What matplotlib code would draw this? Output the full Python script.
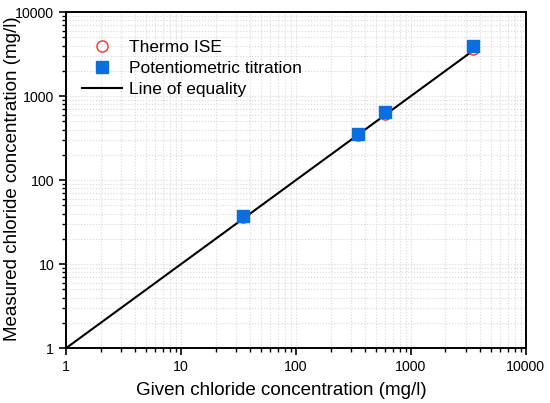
import matplotlib.pyplot as plt
from matplotlib.ticker import LogLocator, NullFormatter

plt.rcParams['font.family'] = ['Liberation Sans', 'DejaVu Sans']

# data
given = [35, 350, 600, 3500]
ise = [36, 340, 620, 3650]
titration = [37, 350, 645, 3900]
equality = [1, 3500]

fig = plt.figure(figsize=(5.5, 4.03), dpi=100)
ax = fig.add_axes([0.12, 0.136, 0.836, 0.834])

ax.plot(equality, equality, color='black', lw=1.5, label='Line of equality', zorder=2)
ax.plot(given, ise, 'o', mfc='none', mec='#ff2a2a', ms=8, mew=1.0,
        ls='none', label='Thermo ISE', zorder=3)
ax.plot(given, titration, 's', color='#0a6ee0', ms=8, ls='none',
        label='Potentiometric titration', zorder=4)

ax.set_xscale('log')
ax.set_yscale('log')
ax.set_xlim(1, 10000)
ax.set_ylim(1, 10000)

ticks = [1, 10, 100, 1000, 10000]
tick_labels = ['1', '10', '100', '1000', '10000']
ax.set_xticks(ticks)
ax.set_xticklabels(tick_labels)
ax.set_yticks(ticks)
ax.set_yticklabels(tick_labels)
for axis in (ax.xaxis, ax.yaxis):
    axis.set_minor_locator(LogLocator(base=10, subs=range(2, 10)))
    axis.set_minor_formatter(NullFormatter())

ax.tick_params(which='major', direction='out', length=5, width=1.2, labelsize=10.2)
ax.tick_params(which='minor', direction='out', length=3, width=1.0)
for s in ax.spines.values():
    s.set_linewidth(1.4)

ax.grid(True, which='both', color='#d8d8d8', ls=':', lw=0.8)
ax.set_axisbelow(True)

ax.set_xlabel('Given chloride concentration (mg/l)', fontsize=13.5)
ax.set_ylabel('Measured chloride concentration (mg/l)', fontsize=13.5)
ax.xaxis.set_label_coords(0.468, -0.1)
ax.yaxis.set_label_coords(-0.097, 0.505)

h, l = ax.get_legend_handles_labels()
order = [1, 2, 0]
ax.legend([h[i] for i in order], [l[i] for i in order], loc='upper left',
          frameon=False, fontsize=12.5, bbox_to_anchor=(0.0, 0.965),
          handlelength=2.3, handletextpad=0.45, labelspacing=0.35)

fig.savefig('out.png', dpi=100)
